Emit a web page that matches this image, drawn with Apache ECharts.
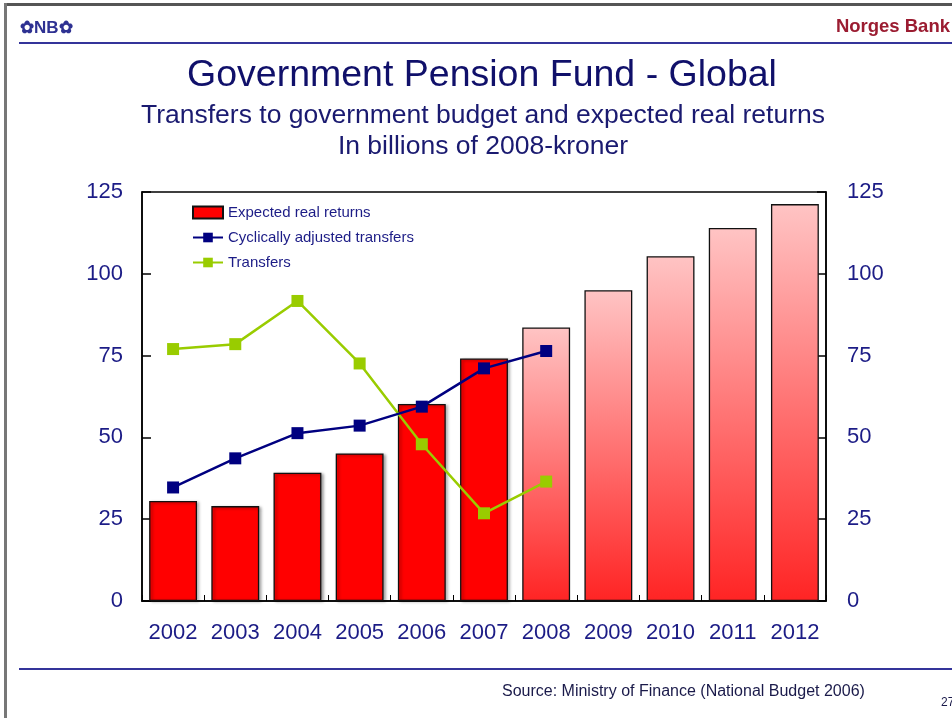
<!DOCTYPE html>
<html>
<head>
<meta charset="utf-8">
<script src="https://cdn.jsdelivr.net/npm/echarts@6/dist/echarts.min.js"></script>
<style>
  html, body { margin: 0; padding: 0; background: #fff; }
  #chart { width: 952px; height: 718px; }
</style>
</head>
<body>
<div id="chart"></div>
<script>
// data (billions of 2008-kroner)
const years = ["2002", "2003", "2004", "2005", "2006", "2007", "2008", "2009", "2010", "2011", "2012"];
const expectedReturns = [30.6, 29.0, 39.2, 45.1, 60.2, 74.1, 83.6, 95.0, 105.4, 114.0, 121.3];
const cyclicalTransfers = [34.7, 43.6, 51.3, 53.6, 59.4, 71.1, 76.4, null, null, null, null];
const transfers = [77.0, 78.5, 91.7, 72.6, 47.9, 26.8, 36.5, null, null, null, null];
const yTicks = [0, 25, 50, 75, 100, 125];
const firstForecast = "2008"; // bars from here on are drawn with a gradient

const navy = "#1c1c86";
const font = "'Liberation Sans', Arial, sans-serif";

const chart = echarts.init(document.getElementById("chart"));

// solid red bars for history, faded gradient bars for projections
const barData = expectedReturns.map((v, i) => {
  if (years[i] < firstForecast) return v;
  return {
    value: v,
    itemStyle: {
      color: new echarts.graphic.LinearGradient(0, 0, 0, 1, [
        { offset: 0, color: "#ffc4c4" },
        { offset: 1, color: "#ff2424" },
      ]),
      shadowBlur: 0,
      shadowOffsetX: 0,
      shadowOffsetY: 0,
    },
  };
});

const yAxisBase = {
  type: "value",
  min: yTicks[0],
  max: yTicks[yTicks.length - 1],
  interval: 25,
  splitLine: { show: false },
  axisLine: { show: true, lineStyle: { color: "#000", width: 1.5 } },
  axisTick: { show: true, inside: true, length: 9, lineStyle: { color: "#000", width: 1.5 } },
  axisLabel: { color: navy, fontSize: 22, fontFamily: font },
};

const option = {
  backgroundColor: "#fff",
  animation: false,
  grid: {
    left: 142,
    right: 126,
    top: 192,
    bottom: 117,
    show: true,
    borderColor: "#000",
    borderWidth: 1.5,
    backgroundColor: "transparent",
  },
  legend: {
    orient: "vertical",
    left: 192,
    top: 205,
    padding: 0,
    itemWidth: 30,
    itemHeight: 12,
    itemGap: 10,
    textStyle: { color: navy, fontSize: 15, fontFamily: font },
    data: [
      { name: "Expected real returns", icon: "rect" },
      "Cyclically adjusted transfers",
      "Transfers",
    ],
  },
  xAxis: {
    type: "category",
    data: years,
    axisLine: { lineStyle: { color: "#000", width: 1.5 } },
    axisTick: { show: true, inside: true, length: 6, lineStyle: { color: "#000" } },
    axisLabel: { color: navy, fontSize: 22, fontFamily: font, margin: 21, interval: 0 },
  },
  yAxis: [
    Object.assign({}, yAxisBase, {
      position: "left",
      axisLabel: Object.assign({}, yAxisBase.axisLabel, { margin: 19 }),
    }),
    Object.assign({}, yAxisBase, {
      position: "right",
      axisLabel: Object.assign({}, yAxisBase.axisLabel, { margin: 21 }),
    }),
  ],
  series: [
    {
      name: "Expected real returns",
      type: "bar",
      barWidth: "77%",
      data: barData,
      itemStyle: {
        color: "#ff0000",
        borderColor: "#111",
        borderWidth: 1.3,
        shadowColor: "rgba(0,0,0,0.35)",
        shadowBlur: 3,
        shadowOffsetX: 2,
        shadowOffsetY: 1,
      },
      z: 2,
    },
    {
      name: "Cyclically adjusted transfers",
      type: "line",
      data: cyclicalTransfers,
      symbol: "rect",
      symbolSize: 12,
      lineStyle: { color: "#000080", width: 2.5 },
      itemStyle: { color: "#000080" },
      z: 4,
    },
    {
      name: "Transfers",
      type: "line",
      data: transfers,
      symbol: "rect",
      symbolSize: 12,
      lineStyle: { color: "#99cc00", width: 2.5 },
      itemStyle: { color: "#99cc00" },
      z: 3,
    },
  ],
  graphic: [
    // slide frame (top and left edges)
    { type: "rect", shape: { x: 4, y: 3, width: 948, height: 3 }, style: { fill: "#555" }, silent: true },
    { type: "rect", shape: { x: 4, y: 3, width: 3, height: 715 }, style: { fill: "#777" }, silent: true },
    // header
    { type: "text", x: 20, y: 28, style: { text: "✿NB✿", fill: "#2e3192", font: "bold 17px " + font, textVerticalAlign: "middle" } },
    { type: "text", x: 950, y: 27, style: { text: "Norges Bank", fill: "#9b1c31", font: "bold 18.5px " + font, textAlign: "right", textVerticalAlign: "middle" } },
    { type: "line", shape: { x1: 19, y1: 43, x2: 952, y2: 43 }, style: { stroke: "#34349a", lineWidth: 2 } },
    // titles
    { type: "text", x: 482, y: 76, style: { text: "Government Pension Fund - Global", fill: "#10106a", font: "37.5px " + font, textAlign: "center", textVerticalAlign: "middle" } },
    { type: "text", x: 483, y: 116, style: { text: "Transfers to government budget and expected real returns", fill: "#1a1a70", font: "26.5px " + font, textAlign: "center", textVerticalAlign: "middle" } },
    { type: "text", x: 483, y: 147, style: { text: "In billions of 2008-kroner", fill: "#1a1a70", font: "26.5px " + font, textAlign: "center", textVerticalAlign: "middle" } },
    // footer
    { type: "line", shape: { x1: 19, y1: 669, x2: 952, y2: 669 }, style: { stroke: "#34349a", lineWidth: 2 } },
    { type: "text", x: 502, y: 692, style: { text: "Source: Ministry of Finance (National Budget 2006)", fill: "#1a1a4a", font: "16px " + font, textVerticalAlign: "middle" } },
    { type: "text", x: 941, y: 703, style: { text: "27", fill: "#1a1a4a", font: "12px " + font, textVerticalAlign: "middle" } },
  ],
};

chart.setOption(option);
</script>
</body>
</html>
